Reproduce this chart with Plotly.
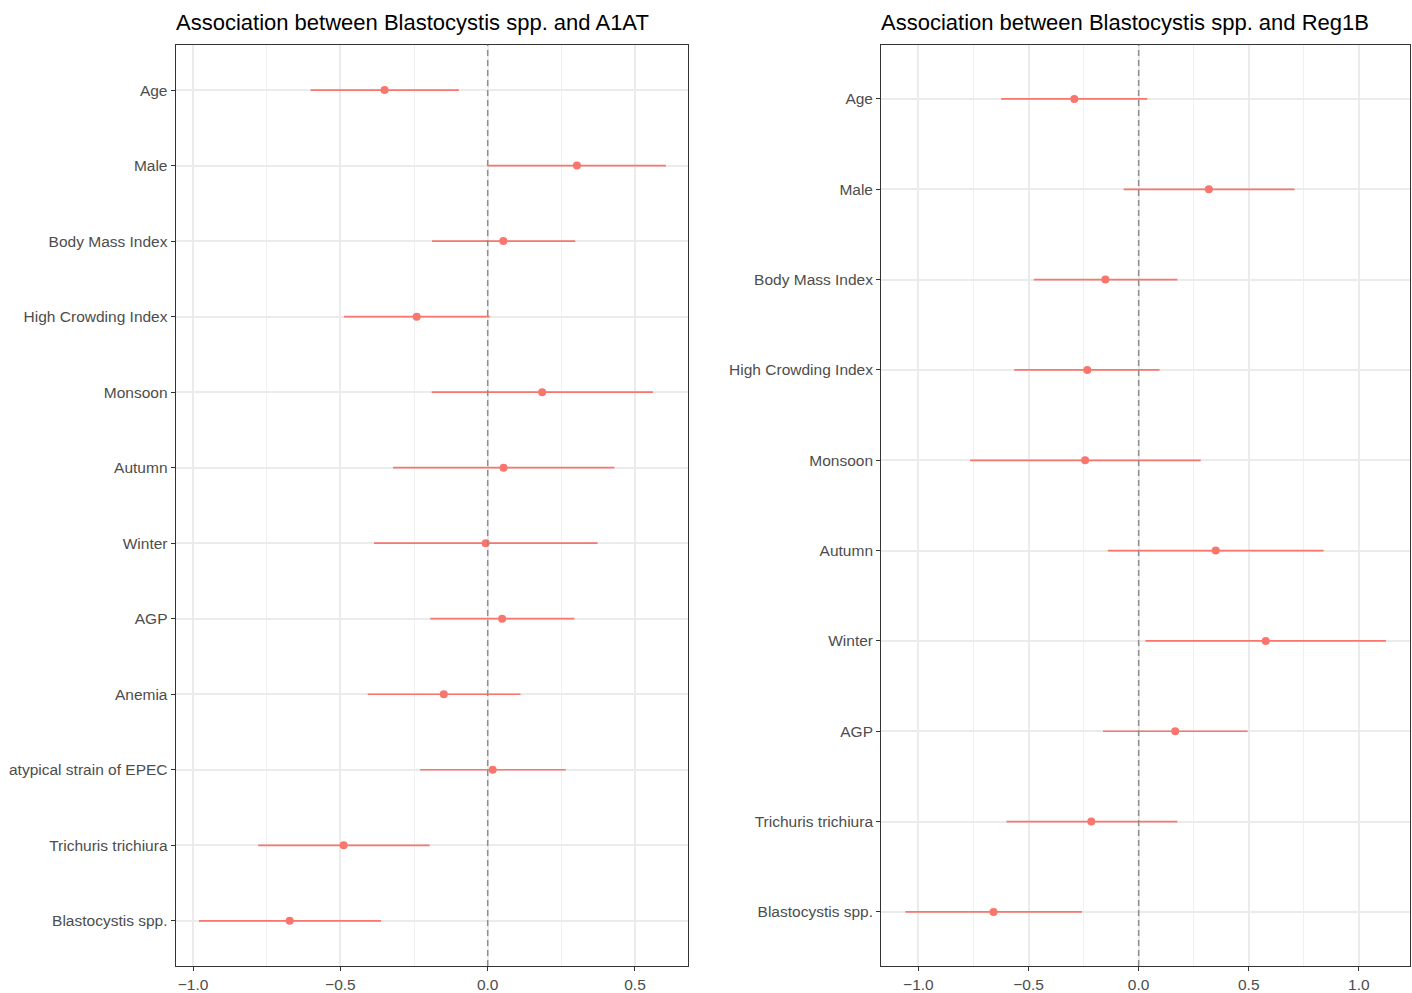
import plotly.graph_objects as go

# ---- Data: left panel (A1AT) ----
a1at_vars = ["Age", "Male", "Body Mass Index", "High Crowding Index", "Monsoon", "Autumn",
             "Winter", "AGP", "Anemia", "atypical strain of EPEC", "Trichuris trichiura",
             "Blastocystis spp."]
a1at_est = [-0.350, 0.303, 0.053, -0.241, 0.185, 0.054, -0.007, 0.049, -0.149, 0.017, -0.489, -0.672]
a1at_lo = [-0.601, 0.000, -0.189, -0.488, -0.190, -0.321, -0.386, -0.195, -0.407, -0.229, -0.779, -0.980]
a1at_hi = [-0.098, 0.605, 0.297, 0.007, 0.561, 0.430, 0.373, 0.294, 0.111, 0.265, -0.197, -0.362]

# ---- Data: right panel (Reg1B) ----
reg_vars = ["Age", "Male", "Body Mass Index", "High Crowding Index", "Monsoon", "Autumn",
            "Winter", "AGP", "Trichuris trichiura", "Blastocystis spp."]
reg_est = [-0.292, 0.319, -0.151, -0.233, -0.243, 0.350, 0.577, 0.166, -0.215, -0.659]
reg_lo = [-0.624, -0.068, -0.476, -0.565, -0.765, -0.140, 0.031, -0.162, -0.600, -1.059]
reg_hi = [0.040, 0.708, 0.176, 0.095, 0.282, 0.840, 1.123, 0.495, 0.176, -0.257]

titles = ["Association between Blastocystis spp. and A1AT",
          "Association between Blastocystis spp. and Reg1B"]

W, H = 1412, 993
RED = "#F8766D"
FONT = "Liberation Sans, Arial, Helvetica, sans-serif"

def px_x(p):
    return p / W

def px_y(p):
    return 1 - p / H

fig = go.Figure()

panels = [
    (a1at_vars, a1at_est, a1at_lo, a1at_hi, "x", "y"),
    (reg_vars, reg_est, reg_lo, reg_hi, "x2", "y2"),
]

for vars_, est, lo, hi, xa, ya in panels:
    fig.add_trace(go.Scatter(
        x=est, y=vars_, mode="markers",
        marker=dict(color=RED, size=8, line=dict(width=0)),
        error_x=dict(type="data", symmetric=False,
                     array=[h - e for h, e in zip(hi, est)],
                     arrayminus=[e - l for e, l in zip(est, lo)],
                     color=RED, thickness=1.7, width=0),
        xaxis=xa, yaxis=ya, showlegend=False,
        hovertemplate="%{y}: %{x:.3f}<extra></extra>",
    ))

def xaxis_cfg(domain, rng, anchor, tickvals):
    return dict(
        domain=domain, range=rng, anchor=anchor,
        tickmode="array", tickvals=tickvals,
        ticktext=[f"{v:.1f}".replace("-", "\u2212") for v in tickvals],
        showgrid=True, gridcolor="#EBEBEB", gridwidth=1.5,
        minor=dict(tickmode="linear", tick0=-1.25, dtick=0.5, showgrid=True,
                   gridcolor="#F0F0F0", gridwidth=1.0, ticks=""),
        zeroline=False,
        ticks="outside", ticklen=4, tickwidth=1.2, tickcolor="#333333",
        tickfont=dict(family=FONT, size=15.5, color="#4D4D4D"),
        showline=True, linecolor="#333333", linewidth=1.2, mirror=True,
        fixedrange=True,
    )

def yaxis_cfg(domain, cats, anchor):
    n = len(cats)
    return dict(
        domain=domain, type="category", categoryorder="array", categoryarray=cats,
        range=[n - 1 + 0.6, -0.6], anchor=anchor,
        showgrid=True, gridcolor="#EBEBEB", gridwidth=1.5,
        zeroline=False,
        ticks="outside", ticklen=4, tickwidth=1.2, tickcolor="#333333",
        tickfont=dict(family=FONT, size=15.5, color="#4D4D4D"),
        showline=True, linecolor="#333333", linewidth=1.2, mirror=True,
        fixedrange=True,
    )

ydom = [px_y(971), px_y(45)]
fig.update_layout(
    width=W, height=H,
    margin=dict(l=0, r=0, t=0, b=0),
    paper_bgcolor="white", plot_bgcolor="white",
    xaxis=xaxis_cfg([px_x(175.7), px_x(688.3)], [-1.059, 0.681], "y", [-1.0, -0.5, 0.0, 0.5]),
    yaxis=yaxis_cfg(ydom, a1at_vars, "x"),
    xaxis2=xaxis_cfg([px_x(881.2), px_x(1409.5)], [-1.169, 1.230], "y2", [-1.0, -0.5, 0.0, 0.5, 1.0]),
    yaxis2=yaxis_cfg(ydom, reg_vars, "x2"),
    font=dict(family=FONT),
)

# dashed reference lines at zero
for xr, yr in [("x", "y domain"), ("x2", "y2 domain")]:
    fig.add_shape(type="line", xref=xr, yref=yr, x0=0, x1=0, y0=0, y1=1,
                  line=dict(color="#8F8F8F", width=1.5, dash="6px,4px"), layer="above")

# titles
for t, xl in zip(titles, [175.7, 881.2]):
    fig.add_annotation(text=t, xref="paper", yref="paper", x=px_x(xl - 2), y=px_y(23),
                       xanchor="left", yanchor="middle", showarrow=False,
                       font=dict(family=FONT, size=22, color="black"))

fig.write_html(
    "out.html",
    config={"displayModeBar": False},
    post_script="document.body.style.margin='0px';document.body.style.overflow='hidden';",
)
